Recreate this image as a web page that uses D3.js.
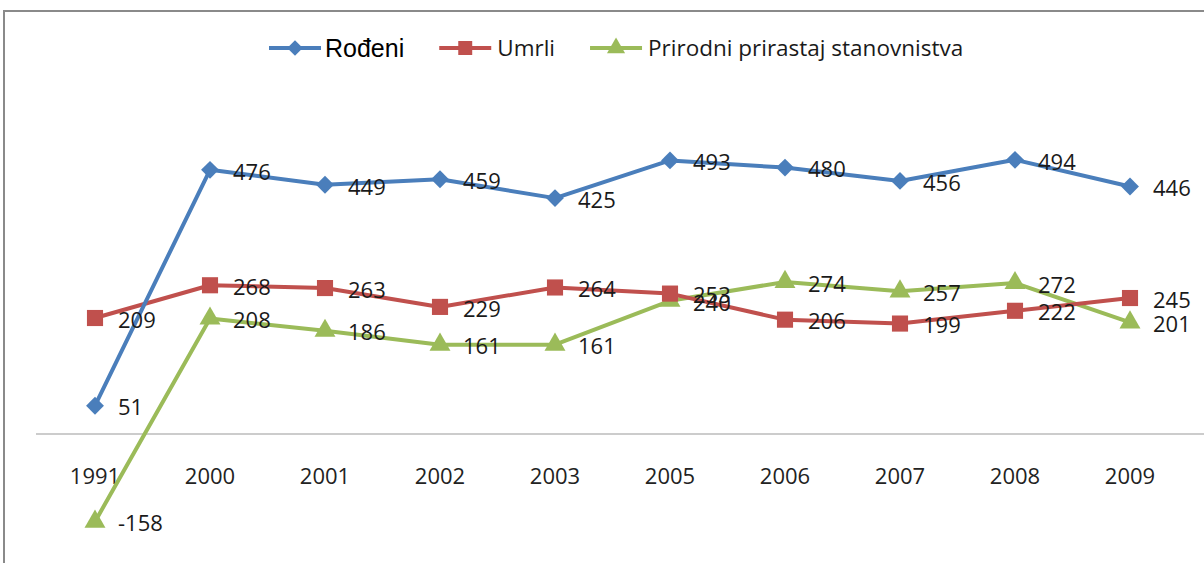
<!DOCTYPE html>
<html>
<head>
    <meta charset="utf-8">
    <style>
        body { margin: 0; background: #fff; }
        svg { display: block; }
        .lbl { font-family: "Open Sans", sans-serif; font-size: 22px; fill: #1a1a1a; }
        .tick text { font-family: "Open Sans", sans-serif; font-size: 22px; fill: #222; }
        .line { fill: none; stroke-width: 4px; stroke-linejoin: round; }
    </style>
</head>
<body>
    <script src="https://cdn.jsdelivr.net/npm/d3@7"></script>
    <script>
        // categories (years) and series values
        var years = ["1991", "2000", "2001", "2002", "2003", "2005", "2006", "2007", "2008", "2009"];
        var rodeni = [51, 476, 449, 459, 425, 493, 480, 456, 494, 446];
        var umrli = [209, 268, 263, 229, 264, 253, 206, 199, 222, 245];
        var prirast = [-158, 208, 186, 161, 161, 240, 274, 257, 272, 201];

        var series = [
            { name: "Rođeni", values: rodeni, color: "#4A7EBB", symbol: d3.symbolSquare, size: 160, rot: 45 },
            { name: "Umrli", values: umrli, color: "#C0504D", symbol: d3.symbolSquare, size: 260, rot: 0 },
            { name: "Prirodni prirastaj stanovnistva", values: prirast, color: "#9BBB59", symbol: d3.symbolTriangle, size: 190, rot: 0 }
        ];

        var width = 1204, height = 563;

        var svg = d3.select("body").append("svg")
            .attr("width", width)
            .attr("height", height);

        // chart frame (runs off the right and bottom edge)
        svg.append("rect")
            .attr("x", 4).attr("y", 11)
            .attr("width", 1240).attr("height", 600)
            .attr("fill", "#fff")
            .attr("stroke", "#8a8a8a")
            .attr("stroke-width", 2);

        // scales
        var x = d3.scaleBand().domain(years).range([37.5, 1187.5]);
        var y = d3.scaleLinear().domain([-200, 600]).range([545, 101]);
        var cx = function (i) { return x(years[i]) + x.bandwidth() / 2; };

        // x axis at zero
        var xAxis = svg.append("g")
            .attr("transform", "translate(0," + y(0) + ")")
            .call(d3.axisBottom(x).tickSize(0).tickPadding(34));
        xAxis.select(".domain").attr("stroke", "#999").attr("stroke-width", 1.2)
            .attr("d", "M36,0H1204");

        var line = d3.line()
            .x(function (d, i) { return cx(i); })
            .y(function (d) { return y(d); });

        // draw back to front so blue ends on top
        series.slice().reverse().forEach(function (s) {
            var g = svg.append("g");
            g.append("path")
                .datum(s.values)
                .attr("class", "line")
                .attr("stroke", s.color)
                .attr("d", line);
            g.selectAll("path.m")
                .data(s.values)
                .enter().append("path")
                .attr("class", "m")
                .attr("fill", s.color)
                .attr("transform", function (d, i) { return "translate(" + cx(i) + "," + y(d) + ") rotate(" + s.rot + ")"; })
                .attr("d", d3.symbol().type(s.symbol).size(s.size));
        });

        // value labels
        series.forEach(function (s) {
            svg.selectAll(null)
                .data(s.values)
                .enter().append("text")
                .attr("class", "lbl")
                .attr("x", function (d, i) { return cx(i) + 23; })
                .attr("y", function (d) { return y(d) + 2; })
                .attr("dy", "0.35em")
                .text(function (d) { return d; });
        });

        // legend
        var lx = 269, ly = 48;
        series.forEach(function (s, i) {
            var g = svg.append("g").attr("transform", "translate(" + lx + "," + ly + ")");
            g.append("line")
                .attr("x1", 0).attr("x2", 52)
                .attr("stroke", s.color).attr("stroke-width", 4);
            g.append("path")
                .attr("transform", "translate(26,0) rotate(" + s.rot + ")")
                .attr("fill", s.color)
                .attr("d", d3.symbol().type(s.symbol).size(s.size * 0.75));
            var t = g.append("text")
                .attr("x", i === 0 ? 56 : 58)
                .attr("dy", "0.35em")
                .style("font-family", i === 0 ? "'Liberation Sans', Arial, sans-serif" : "'Open Sans', sans-serif")
                .style("font-size", i === 0 ? "25px" : "22.5px")
                .style("fill", i === 0 ? "#000" : "#1a1a1a")
                .text(s.name);
            lx += (i === 0 ? 56 : 58) + t.node().getComputedTextLength() + 35;
        });
    </script>
</body>
</html>
